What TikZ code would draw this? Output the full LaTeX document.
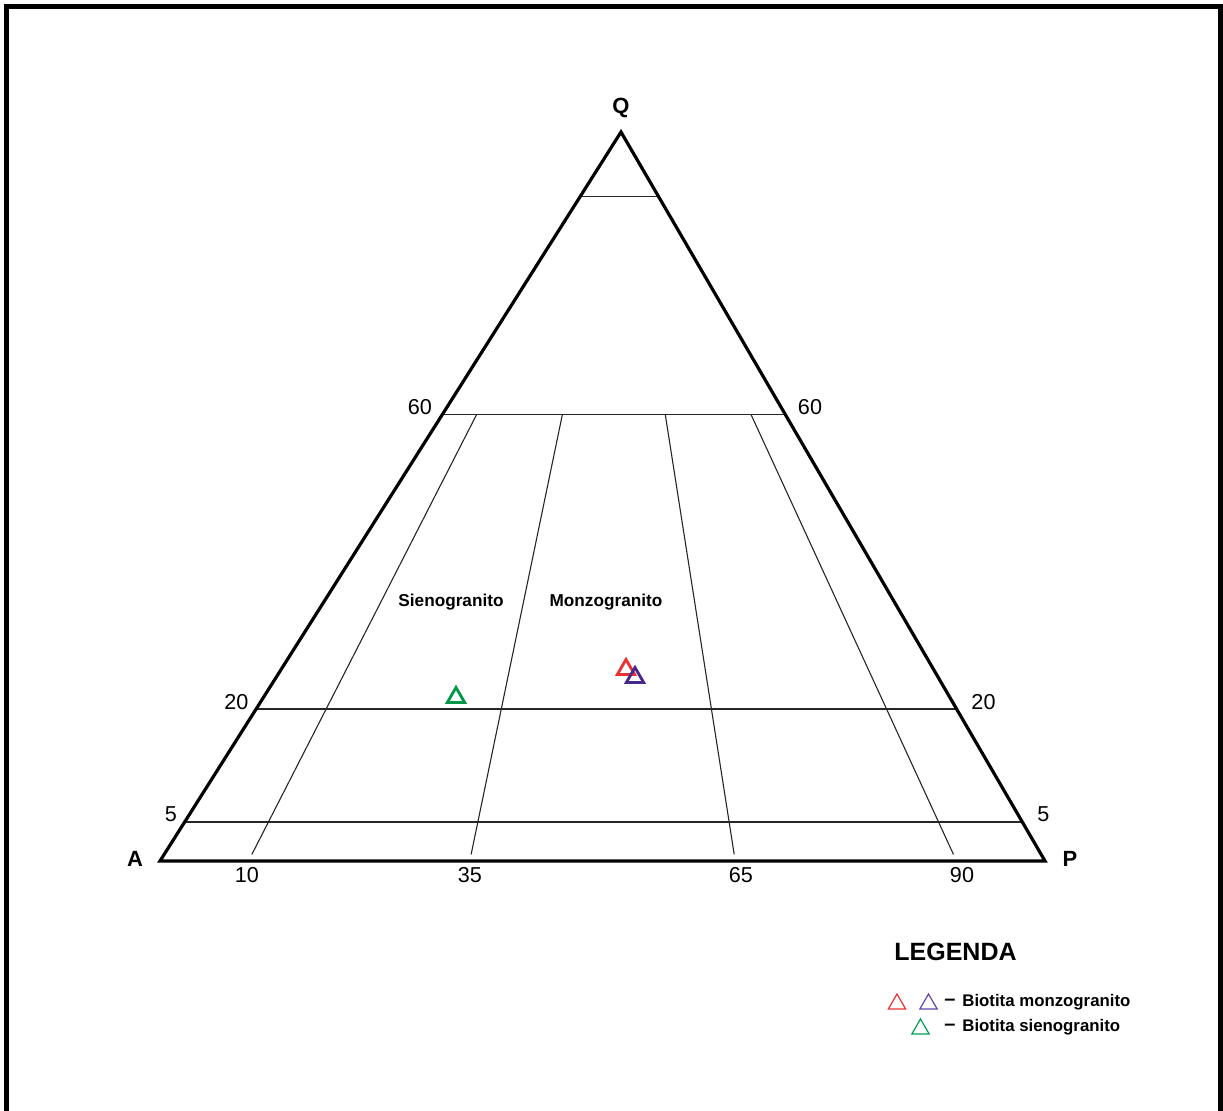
\documentclass[tikz,border=0pt]{standalone}
\usepackage{fontspec}
\setmainfont{Liberation Sans}
\usetikzlibrary{calc,shapes.geometric}
\begin{document}
\begin{tikzpicture}[x=0.5pt,y=-0.5pt,
  edge/.style={line width=1.6pt,line join=miter},
  thin/.style={line width=0.55pt,draw=black!85},
  vert/.style={font=\bfseries\fontsize{11}{13}\selectfont,inner sep=0pt},
  num/.style={font=\fontsize{10.8}{12}\selectfont,inner sep=0pt},
  field/.style={font=\bfseries\fontsize{8.6}{10}\selectfont,inner sep=0pt},
  sample/.style={regular polygon,regular polygon sides=3,minimum size=10pt,inner sep=0pt,line width=1.4pt},
  legsym/.style={regular polygon,regular polygon sides=3,minimum size=10pt,inner sep=0pt,line width=0.6pt},
  legtxt/.style={font=\bfseries\fontsize{8.4}{10}\selectfont,inner sep=0pt,anchor=west}]
\useasboundingbox (0,0) rectangle (1223,1111);
% frame
\draw[line width=2.5pt] (6.5,1120) -- (6.5,7) -- (1220,7) -- (1220,1120);
% vertices
\coordinate (A) at (160,861);
\coordinate (P) at (1045,861);
\coordinate (Q) at (621,132);
% horizontal level lines
\foreach \t/\n in {0.0535/l5,0.2085/l20,0.613/l60,0.911/l90}{
  \coordinate (\n L) at ($(A)!\t!(Q)$);
  \coordinate (\n R) at ($(P)!\t!(Q)$);
  \draw[thin] (\n L) -- (\n R);
}
% radial dividers
\foreach \f/\n in {0.10/d10,0.35/d35,0.65/d65,0.90/d90}{
  \coordinate (\n b) at ($(A)!\f!(P)$);
  \coordinate (\n t) at ($(\n b)!0.613!(Q)$);
  \coordinate (\n s) at ($(\n b)!0.009!(Q)$);
  \draw[thin] (\n s) -- (\n t);
}
% triangle outline
\draw[edge] (A) -- (P) -- (Q) -- cycle;
% vertex labels
\node[vert] (QL) at (621,108) {Q};
\node[vert] (AL) at (135,858.5) {A};
\node[vert] (PL) at (1070,858.5) {P};
% numeric labels
\node[num] (n60l) at (420,407.5) {60};
\node[num] (n60r) at (810,407.5) {60};
\node[num] (n20l) at (236.5,702) {20};
\node[num] (n20r) at (983.5,702) {20};
\node[num] (n5l) at (171,814.5) {5};
\node[num] (n5r) at (1043.5,814.5) {5};
\node[num] (n10) at (247,875) {10};
\node[num] (n35) at (470,875) {35};
\node[num] (n65) at (741,875) {65};
\node[num] (n90) at (962,875) {90};
% field names
\node[field] (sien) at (451,602) {Sienogranito};
\node[field] (monz) at (606,602) {Monzogranito};
% samples
\node[sample,draw={rgb,255:red,0;green,150;blue,70}] (s1) at (456,697.5) {};
\node[sample,draw={rgb,255:red,235;green,50;blue,50}] (s2) at (626,669.5) {};
\node[sample,draw={rgb,255:red,70;green,40;blue,140}] (s3) at (635,677.5) {};
% legend
\node[font=\bfseries\fontsize{12.5}{14}\selectfont,inner sep=0pt] (leg) at (955.5,952) {LEGENDA};
\node[legsym,draw={rgb,255:red,235;green,50;blue,50}] (lr) at (897,1004) {};
\node[legsym,draw={rgb,255:red,100;green,70;blue,170}] (lp) at (928.5,1004) {};
\node[legtxt,font=\bfseries\fontsize{10}{10}\selectfont] (dash1) at (944,1002) {–};
\node[legtxt] (t1) at (962,1002) {Biotita monzogranito};
\node[legsym,draw={rgb,255:red,0;green,160;blue,80}] (lg) at (920.5,1029) {};
\node[legtxt,font=\bfseries\fontsize{10}{10}\selectfont] (dash2) at (944,1027) {–};
\node[legtxt] (t2) at (962,1027) {Biotita sienogranito};
\end{tikzpicture}
\end{document}
